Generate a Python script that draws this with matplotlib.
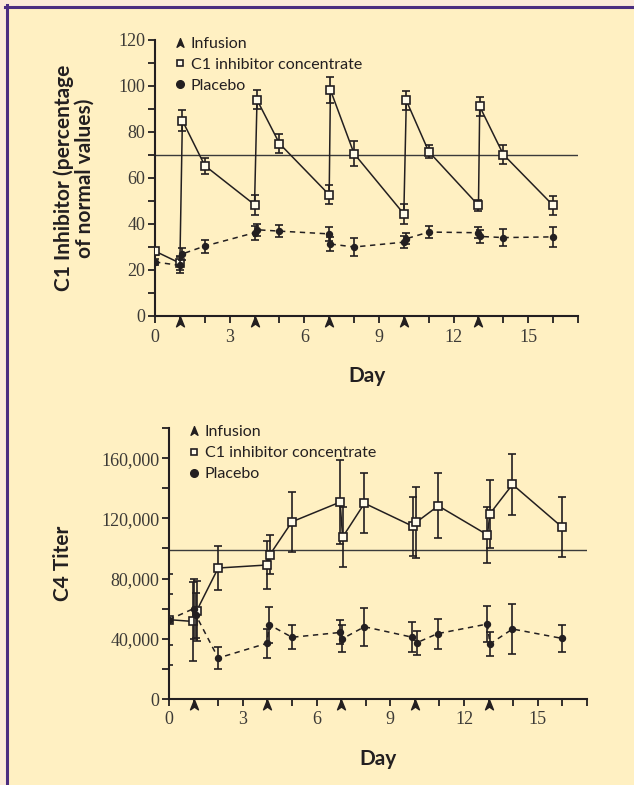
import matplotlib.pyplot as plt
import matplotlib.transforms as mtransforms
from matplotlib.path import Path
from matplotlib.lines import Line2D
from matplotlib.ticker import MultipleLocator, FuncFormatter

# Theme
BG = "#FFF0C2"
EDGE = "#FBEAD8"
PURPLE = "#4B2D80"
INK = "#231F20"
TICK_INK = "#3C3A36"
SANS = "Lato"
SERIF = "Liberation Serif"

# Data
infusion_days = [1, 4, 7, 10, 13]

# C1 inhibitor (% of normal values)
c1_conc_day = [0, 1.0, 1.1, 2, 4, 4.1, 5, 7, 7.05, 8, 10, 10.1, 11, 13, 13.05, 14, 16]
c1_conc_val = [28.2, 23.0, 85.0, 65.4, 48.4, 94.0, 75.0, 52.7, 98.3, 70.6, 44.4, 93.7, 71.5, 48.1, 91.1, 70.2, 48.1]
c1_conc_err = [1.5, 3.0, 4.6, 3.5, 4.3, 4.2, 4.3, 4.2, 5.5, 5.3, 4.2, 4.2, 3.0, 2.5, 4.3, 4.2, 4.2]
c1_plac_day = [0, 1.0, 1.1, 2, 4, 4.1, 5, 7, 7.05, 8, 10, 10.1, 11, 13, 13.05, 14, 16]
c1_plac_val = [23.5, 22.0, 27.0, 30.4, 36.2, 37.5, 36.9, 35.7, 31.3, 30.0, 32.1, 33.6, 36.5, 36.2, 34.6, 34.1, 34.4]
c1_plac_err = [1.5, 3.5, 2.6, 2.8, 3.0, 2.5, 2.5, 2.9, 3.0, 3.8, 2.5, 2.5, 2.7, 2.5, 3.0, 3.7, 4.5]
c1_normal = 70

# C4 titer
c4_conc_day = [0, 0.98, 1.12, 2, 3.98, 4.1, 5, 6.96, 7.06, 7.95, 9.93, 10.05, 10.95, 12.95, 13.05, 13.97, 15.97]
c4_conc_val = [52700, 51500, 58400, 87000, 89000, 95800, 117700, 130800, 107500, 130000, 114600, 117300, 128300, 109000, 123000, 142500, 114400]
c4_conc_err = [30000, 26000, 20000, 14500, 16000, 13000, 20000, 28000, 20000, 20000, 19500, 23500, 21500, 18500, 22500, 20000, 20000]
c4_plac_day = [0, 1.0, 1.1, 2, 3.98, 4.08, 5, 6.96, 7.05, 7.95, 9.9, 10.08, 10.92, 12.95, 13.05, 13.97, 15.97]
c4_plac_val = [52700, 60000, 55500, 27200, 37000, 49300, 41000, 44200, 40000, 48000, 41000, 37400, 43400, 49800, 36500, 46500, 40300]
c4_plac_err = [17000, 20000, 15000, 7500, 9500, 12000, 8000, 8000, 9000, 12500, 10000, 8000, 10000, 12000, 8000, 16500, 9000]
c4_normal = 99000

# arrowhead used for the infusion days
ARROW = Path([(0, 0.7), (0.5, -0.55), (0, -0.2), (-0.5, -0.55), (0, 0.7)],
             [Path.MOVETO, Path.LINETO, Path.LINETO, Path.LINETO, Path.CLOSEPOLY])


def style_axes(ax, ymax, ymajor, yminor, fmt=None):
    ax.set_facecolor("none")
    for s in ["top", "right"]:
        ax.spines[s].set_visible(False)
    for s in ["left", "bottom"]:
        ax.spines[s].set_linewidth(1.5)
        ax.spines[s].set_color(INK)
    ax.set_xlim(0, 17)
    ax.set_ylim(0, ymax)
    ax.xaxis.set_minor_locator(MultipleLocator(1))
    ax.yaxis.set_major_locator(MultipleLocator(ymajor))
    ax.yaxis.set_minor_locator(MultipleLocator(yminor))
    ax.set_xticks([0, 3, 6, 9, 12, 15])
    if fmt:
        ax.yaxis.set_major_formatter(FuncFormatter(fmt))
    ax.tick_params(which="both", direction="out", color=INK, width=1.3, length=5)
    ax.tick_params(axis="x", which="major", pad=4, labelsize=13, labelcolor=TICK_INK)
    ax.tick_params(axis="y", which="major", pad=2, labelsize=13, labelcolor=TICK_INK)
    for lab in ax.get_xticklabels() + ax.get_yticklabels():
        lab.set_family(SERIF)
    ax.set_xlabel("Day", family=SANS, fontweight="bold", fontsize=15, color=INK, labelpad=15)


def draw_series(ax, cx, cy, ce, px, py, pe, normal, arrow_off, leg_y):
    ax.axhline(normal, xmin=0, xmax=1, color="#3a3a3a", lw=1.0, zorder=1)
    ax.errorbar(cx, cy, yerr=ce, fmt="-s", color=INK, lw=1.1, ms=5.2, mfc="#FFFBEA", mec=INK, mew=1.2,
                ecolor=INK, elinewidth=1.2, capsize=3, capthick=1.2, zorder=3)
    ax.errorbar(px, py, yerr=pe, fmt="o", ls=(0, (3.5, 3)), color=INK, lw=1.1, ms=4.3,
                ecolor=INK, elinewidth=1.2, capsize=3, capthick=1.2, zorder=4)
    trans = ax.get_xaxis_transform() + mtransforms.ScaledTranslation(0, -arrow_off / 72, ax.figure.dpi_scale_trans)
    ax.plot(infusion_days, [0] * len(infusion_days), ls="none", marker=ARROW, ms=8, color=INK,
            transform=trans, clip_on=False, zorder=5)
    handles = [
        Line2D([], [], ls="none", marker=ARROW, ms=7, color=INK),
        Line2D([], [], ls="none", marker="s", ms=5, mfc="#FFFBEA", mec=INK, mew=1.2),
        Line2D([], [], ls="none", marker="o", ms=5.5, color=INK),
    ]
    ax.legend(handles, ["Infusion", "C1 inhibitor concentrate", "Placebo"], loc="upper left",
              bbox_to_anchor=(0.028, leg_y), frameon=False, handlelength=0.7, handletextpad=0.3,
              labelspacing=0.42, borderpad=0, prop={"family": SANS, "size": 11.5}, labelcolor=INK)


fig = plt.figure(figsize=(6.34, 7.85), dpi=100, facecolor=BG)

# page border: light margin + purple rule on top and left
fig.patches.append(plt.Rectangle((0, 0), 5 / 634, 1, transform=fig.transFigure, color=EDGE, zorder=0))
fig.patches.append(plt.Rectangle((0, 1 - 5 / 785), 1, 5 / 785, transform=fig.transFigure, color=EDGE, zorder=0))
fig.add_artist(Line2D([6.5 / 634, 6.5 / 634], [0, 1 - 5 / 785], transform=fig.transFigure, color=PURPLE, lw=2.2))
fig.add_artist(Line2D([5 / 634, 1], [1 - 6.5 / 785, 1 - 6.5 / 785], transform=fig.transFigure, color=PURPLE, lw=2.2))

# top panel: C1 inhibitor
ax1 = fig.add_axes([155 / 634, 1 - 316 / 785, 423 / 634, 276 / 785])
style_axes(ax1, 120, 20, 10)
draw_series(ax1, c1_conc_day, c1_conc_val, c1_conc_err, c1_plac_day, c1_plac_val, c1_plac_err, c1_normal, 4.5, 1.04)
ax1.set_ylabel("C1 Inhibitor (percentage\nof normal values)", family=SANS, fontweight="bold", fontsize=15,
               color=INK, labelpad=17, linespacing=1.05)

# bottom panel: C4 titer
ax2 = fig.add_axes([169 / 634, 1 - 699 / 785, 418 / 634, 271 / 785])
style_axes(ax2, 180000, 40000, 20000, fmt=lambda v, p: f"{int(v):,}")
draw_series(ax2, c4_conc_day, c4_conc_val, c4_conc_err, c4_plac_day, c4_plac_val, c4_plac_err, c4_normal, 4, 1.04)
ax2.set_ylabel("C4 Titer", family=SANS, fontweight="bold", fontsize=15, color=INK, labelpad=20)

fig.savefig("out.png", dpi=100, facecolor=BG)
